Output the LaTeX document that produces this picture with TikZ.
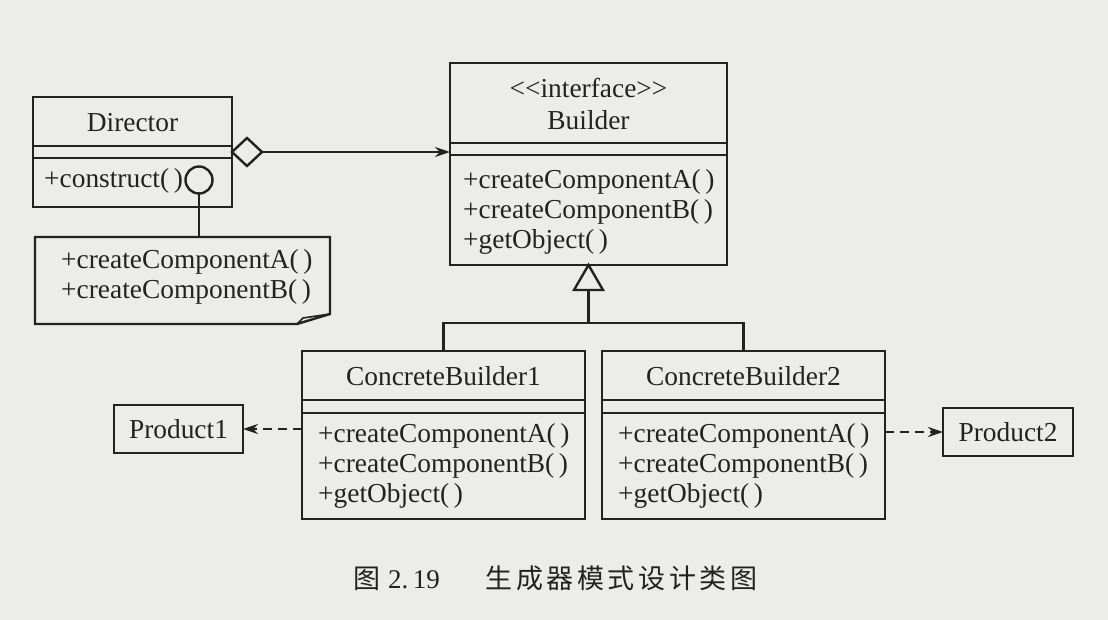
\documentclass[tikz,border=0pt]{standalone}
\usepackage{fontspec}
\setmainfont{Liberation Serif}
\newfontfamily\cjk{Noto Sans CJK SC}[LetterSpace=13]
\usetikzlibrary{arrows.meta,shapes.geometric,calc}
\definecolor{bg}{RGB}{236,236,233}
\definecolor{ink}{RGB}{34,34,34}
\begin{document}
\begin{tikzpicture}[x=1pt,y=-1pt,
  line width=2.4pt, draw=ink, text=ink,
  box/.style={draw, inner sep=0pt, outer sep=0pt, anchor=north west},
  ghost/.style={inner sep=0pt, outer sep=0pt, anchor=north west},
  txt/.style={inner sep=0pt, align=left, font=\fontsize{27.4}{30}\selectfont},
  ctxt/.style={inner sep=0pt, align=center, font=\fontsize{27.4}{32}\selectfont},
  arr/.style={-{Stealth[length=15pt,width=10pt]}},
  dsh/.style={dash pattern=on 9pt off 6pt}]
\fill[bg] (0,0) rectangle (1108,620);
\useasboundingbox (0,0) rectangle (1108,620);

% Director
\node[box, minimum width=199pt, minimum height=110pt] (dir) at (33,97) {};
\draw (33,146) -- (232,146) (33,158) -- (232,158);
\node[ctxt] (dirname) at (132.5,123) {Director};
\node[txt, anchor=west] (dirops) at (43,181) {+construct(\,)};

% Builder
\node[box, minimum width=277pt, minimum height=202pt] (bld) at (450,63) {};
\draw (450,143) -- (727,143) (450,155) -- (727,155);
\node[ctxt] (bldname) at (588.5,104) {{<}{<}interface{>}{>}\\Builder};
\node[txt, anchor=west] (bldops) at (462,212) {+createComponentA(\,)\\+createComponentB(\,)\\+getObject(\,)};

% Note
\node[ghost, minimum width=295pt, minimum height=87pt] (note) at (35,237) {};
\draw (note.north west) -- (note.north east) -- ([yshift=10pt]note.south east)
  -- ([xshift=-33pt]note.south east) -- (note.south west) -- cycle;
\draw[line width=1.6pt] ([xshift=-33pt]note.south east) -- ([xshift=-27pt,yshift=6pt]note.south east) -- ([yshift=10pt]note.south east);
\node[txt, anchor=west] (notetxt) at (60,277) {+createComponentA(\,)\\+createComponentB(\,)};

% diamond and lollipop
\node[draw, diamond, inner sep=0pt, outer sep=0pt, minimum width=30pt, minimum height=28pt, anchor=west, fill=bg] (dia) at (dir.east) {};
\draw[arr] (dia.east) -- (bld.west |- dia.east);
\node[draw, circle, inner sep=0pt, outer sep=0pt, minimum size=27pt] (lol) at (199,180) {};
\draw (lol.south) -- (lol.south |- note.north);

% Concrete builders
\node[box, minimum width=283pt, minimum height=168pt] (cb1) at (302,351) {};
\draw (302,400) -- (585,400) (302,413) -- (585,413);
\node[ctxt] (cb1name) at (443.5,376) {ConcreteBuilder1};
\node[txt, anchor=west] (cb1ops) at (317,466) {+createComponentA(\,)\\+createComponentB(\,)\\+getObject(\,)};

\node[box, minimum width=283pt, minimum height=168pt] (cb2) at (602,351) {};
\draw (602,400) -- (885,400) (602,413) -- (885,413);
\node[ctxt] (cb2name) at (743.5,376) {ConcreteBuilder2};
\node[txt, anchor=west] (cb2ops) at (617,466) {+createComponentA(\,)\\+createComponentB(\,)\\+getObject(\,)};

% generalization
\draw[fill=bg] (bld.south) -- ++(-14.5,25) coordinate (tl) -- ++(29,0) -- cycle;
\coordinate (tb) at ($(bld.south)+(0,25)$);
\coordinate (bar) at (588.5,323);
\draw (tb) -- (bar);
\draw (cb1.north) |- (bar) -| (cb2.north);

% products
\node[box, minimum width=129pt, minimum height=48pt] (p1) at (114,405) {};
\node[ctxt] (p1t) at (p1.center) {Product1};
\node[box, minimum width=130pt, minimum height=48pt] (p2) at (943,408) {};
\node[ctxt] (p2t) at (p2.center) {Product2};
\draw[arr, dsh] (cb1.west |- p1.east) -- (p1.east);
\draw[arr, dsh] (cb2.east |- p2.west) -- (p2.west);

% caption
\node[inner sep=0pt, anchor=west, font=\fontsize{27}{30}\selectfont] (cap) at (352,578)
  {{\cjk 图}\hspace{8pt}2.\,19\hspace{46pt}{\cjk 生成器模式设计类图}};
\end{tikzpicture}
\end{document}
